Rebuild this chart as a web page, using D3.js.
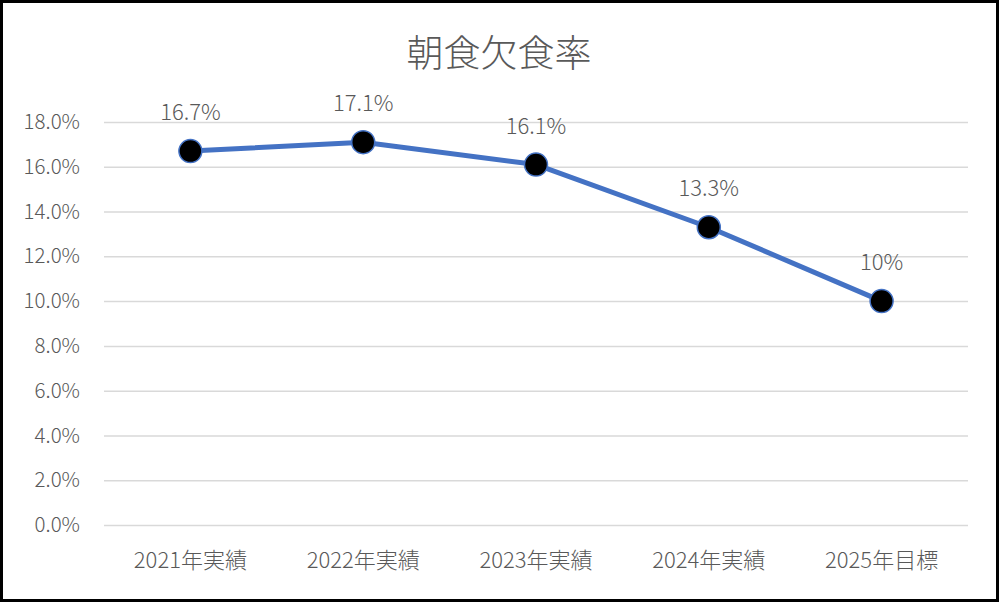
<!DOCTYPE html>
<html><head><meta charset="utf-8">
<script src="https://cdn.jsdelivr.net/npm/d3@7"></script>
<style>
html,body{margin:0;padding:0;background:#fff;}
svg{display:block;}
text{font-family:"Noto Sans CJK JP","Noto Sans",sans-serif;fill:#595959;font-weight:300;}
</style></head>
<body>
<script>
const categories = ["2021年実績","2022年実績","2023年実績","2024年実績","2025年目標"];
const values = [16.7, 17.1, 16.1, 13.3, 10];
const dataLabels = ["16.7%","17.1%","16.1%","13.3%","10%"];
const yTicks = [0,2,4,6,8,10,12,14,16,18];
const title = "朝食欠食率";

const W = 1000, H = 603;
const svg = d3.select("body").append("svg").attr("width", W).attr("height", H);
svg.append("rect").attr("x",1.5).attr("y",1.5).attr("width",W-4).attr("height",H-4)
  .attr("fill","#fff").attr("stroke","#000").attr("stroke-width",3);

const x = d3.scaleBand().domain(categories).range([104, 968]);
const y = d3.scaleLinear().domain([0,18]).range([525, 122]);

svg.append("text").attr("x",499).attr("y",67).attr("text-anchor","middle")
  .style("font-size","37px").attr("fill","#595959").text(title);

const yAxis = svg.append("g").attr("transform","translate(104,0)")
  .call(d3.axisLeft(y).tickValues(yTicks).tickSize(-864).tickPadding(24).tickFormat(d=>d.toFixed(1)+"%"));
yAxis.select(".domain").remove();
yAxis.selectAll("line").attr("stroke","#D9D9D9").attr("stroke-width",1.5);
yAxis.selectAll("text").style("font-size","20.5px").attr("fill","#595959");

const xAxis = svg.append("g").attr("transform","translate(0,525)")
  .call(d3.axisBottom(x).tickSize(0).tickPadding(27));
xAxis.select(".domain").remove();
xAxis.selectAll("text").style("font-size","22px").attr("fill","#595959");

const cx = d => x(d) + x.bandwidth()/2;
const pts = categories.map((c,i)=>({c, v: values[i], l: dataLabels[i]}));

svg.append("path").datum(pts)
  .attr("d", d3.line().x(d=>cx(d.c)).y(d=>y(d.v)))
  .attr("fill","none").attr("stroke","#4472C4").attr("stroke-width",5).attr("stroke-linejoin","round");

svg.selectAll("circle.pt").data(pts).enter().append("circle")
  .attr("cx", d=>cx(d.c)).attr("cy", d=>y(d.v)).attr("r", 11.5)
  .attr("fill","#000").attr("stroke","#4472C4").attr("stroke-width",1.5);

svg.selectAll("text.lbl").data(pts).enter().append("text")
  .attr("x", d=>cx(d.c)).attr("y", d=>y(d.v)-31).attr("text-anchor","middle")
  .style("font-size","22px").attr("fill","#404040").text(d=>d.l);
</script>
</body></html>
